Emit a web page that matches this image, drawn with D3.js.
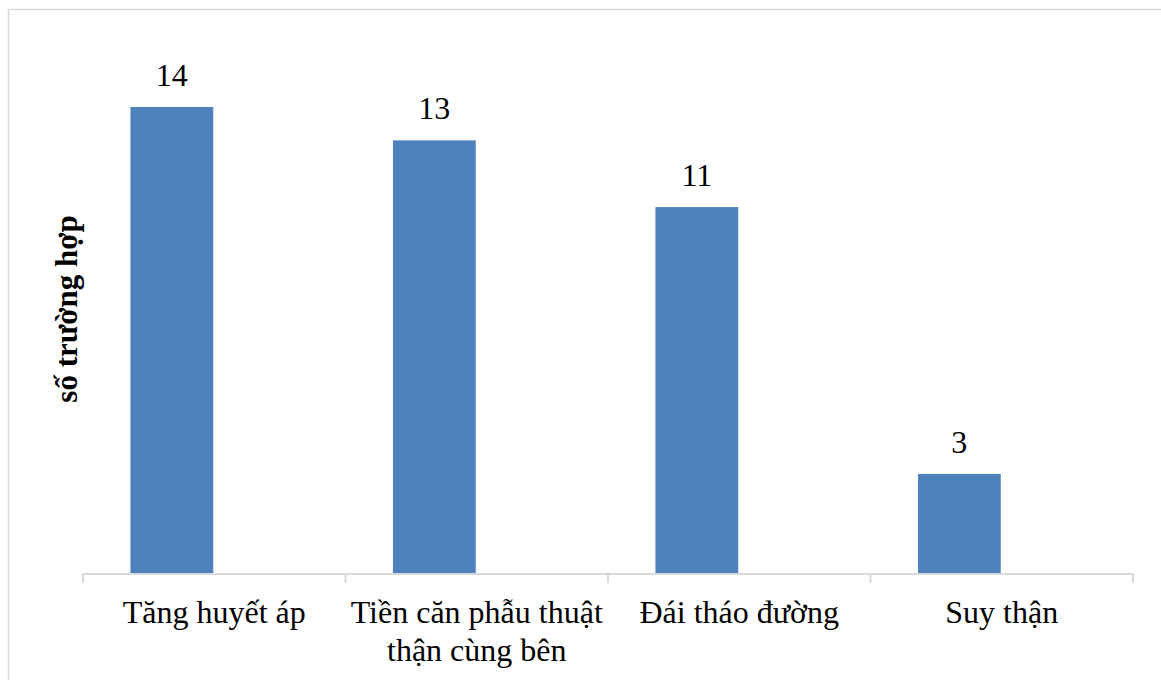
<!DOCTYPE html>
<html>
<head>
<meta charset="utf-8">
<script src="https://cdn.jsdelivr.net/npm/d3@7/dist/d3.min.js"></script>
<style>
  html, body { margin: 0; padding: 0; background: #fff; }
  svg { display: block; }
</style>
</head>
<body>
<svg id="chart" width="1161" height="680" font-family="'Liberation Serif', 'Times New Roman', 'DejaVu Serif', serif"></svg>
<script>
// Số trường hợp theo tiền căn / bệnh kèm
const categories = ["Tăng huyết áp", "Tiền căn phẫu thuật thận cùng bên", "Đái tháo đường", "Suy thận"];
const categoryLines = [["Tăng huyết áp"], ["Tiền căn phẫu thuật", "thận cùng bên"], ["Đái tháo đường"], ["Suy thận"]];
const counts = [14, 13, 11, 3];
const seriesSlots = ["số trường hợp", ""];   // clustered layout: first slot holds the bar
const yLabel = "số trường hợp";

const svg = d3.select("#chart");
const axisLeft = 83, axisRight = 1133;
const baseY = 574;

// outer chart frame
svg.append("rect")
  .attr("x", 8.5).attr("y", 9.5)
  .attr("width", 1170).attr("height", 700)
  .attr("fill", "none").attr("stroke", "#d9d9d9").attr("stroke-width", 1.5);

const x = d3.scaleBand()
  .domain(categories)
  .range([axisLeft, axisRight])
  .padding(0);

const xSub = d3.scaleBand()
  .domain(seriesSlots)
  .range([0, x.bandwidth()])
  .paddingInner(0)
  .paddingOuter(0.585);

const y = d3.scaleLinear()
  .domain([0, 14])
  .range([baseY, 107]);

// bars
svg.append("g").selectAll("rect")
  .data(categories)
  .join("rect")
  .attr("x", d => x(d) + xSub(seriesSlots[0]) - 1)
  .attr("y", (d, i) => y(counts[i]))
  .attr("width", xSub.bandwidth())
  .attr("height", (d, i) => y(0) - y(counts[i]))
  .attr("fill", "#4f81bd");

// category axis with boundary ticks
const bounds = categories.map(c => x(c)).concat([axisRight]);
const axis = svg.append("g").attr("stroke", "#d9d9d9").attr("stroke-width", 2);
axis.append("line")
  .attr("x1", axisLeft).attr("x2", axisRight)
  .attr("y1", baseY).attr("y2", baseY);
axis.selectAll("line.tick")
  .data(bounds)
  .join("line")
  .attr("class", "tick")
  .attr("x1", d => d).attr("x2", d => d)
  .attr("y1", baseY).attr("y2", baseY + 9);

// category labels
const labels = svg.append("g").attr("font-size", 32).attr("text-anchor", "middle");
categories.forEach((c, i) => {
  const cx = x(c) + x.bandwidth() / 2;
  const t = labels.append("text").attr("x", cx).attr("y", 623);
  categoryLines[i].forEach((ln, j) => {
    t.append("tspan")
      .attr("x", cx)
      .attr("dy", j === 0 ? 0 : 38)
      .text(ln);
  });
});

// value labels
svg.append("g").attr("font-size", 32).attr("text-anchor", "middle")
  .selectAll("text")
  .data(categories)
  .join("text")
  .attr("x", d => x(d) + xSub(seriesSlots[0]) - 1 + xSub.bandwidth() / 2)
  .attr("y", (d, i) => y(counts[i]) - 21)
  .text((d, i) => counts[i]);

// y axis title
svg.append("text")
  .attr("transform", "translate(77,309) rotate(-90)")
  .attr("text-anchor", "middle")
  .attr("font-size", 31)
  .attr("font-weight", "bold")
  .text(yLabel);
</script>
</body>
</html>
